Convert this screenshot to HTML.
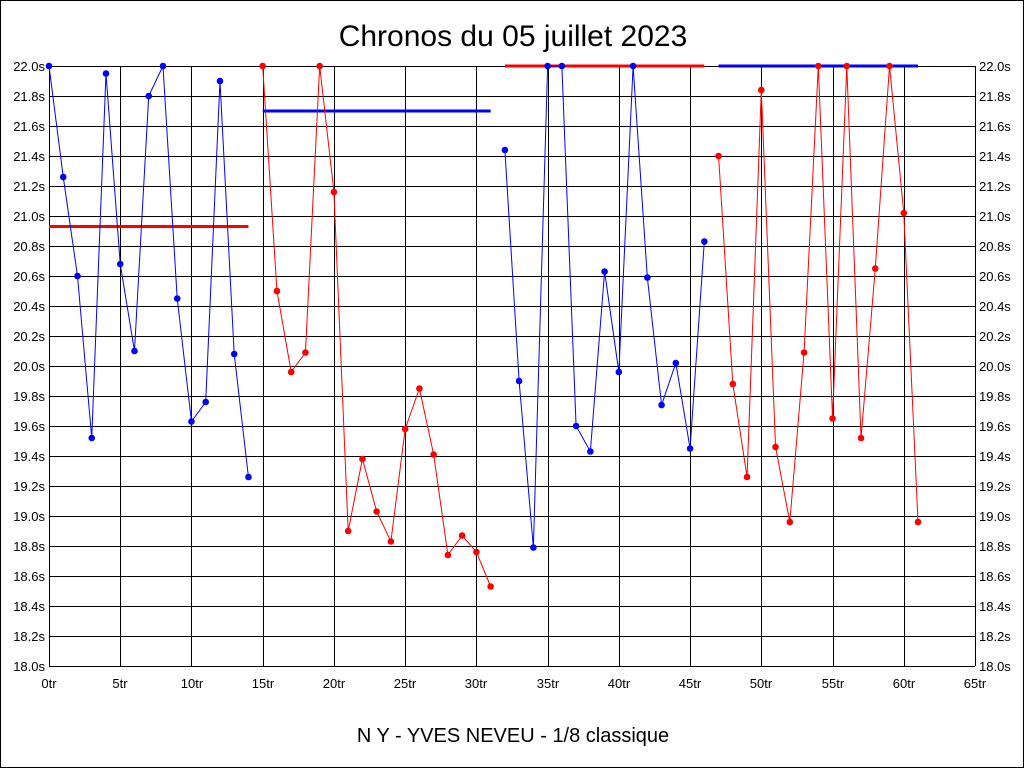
<!DOCTYPE html>
<html><head><meta charset="utf-8"><style>
html,body{margin:0;padding:0;background:#fff}
svg{display:block}
text{font-family:"Liberation Sans",Arial,sans-serif;fill:#000}
</style></head><body>
<svg id="s" width="1024" height="768" viewBox="0 0 1024 768" xmlns="http://www.w3.org/2000/svg">
<rect x="0.5" y="0.5" width="1023" height="767" fill="#fff" stroke="#000"/>
<text x="513" y="46" font-size="30" text-anchor="middle">Chronos du 05 juillet 2023</text>
<text x="513" y="742" font-size="20" text-anchor="middle">N Y - YVES NEVEU - 1/8 classique</text>
<g id="grid" stroke="#000" stroke-width="1" shape-rendering="crispEdges"></g>
<g font-size="13" text-anchor="end">
<text x="45" y="71">22.0s</text><text x="45" y="101">21.8s</text><text x="45" y="131">21.6s</text><text x="45" y="161">21.4s</text><text x="45" y="191">21.2s</text><text x="45" y="221">21.0s</text><text x="45" y="251">20.8s</text><text x="45" y="281">20.6s</text><text x="45" y="311">20.4s</text><text x="45" y="341">20.2s</text><text x="45" y="371">20.0s</text><text x="45" y="401">19.8s</text><text x="45" y="431">19.6s</text><text x="45" y="461">19.4s</text><text x="45" y="491">19.2s</text><text x="45" y="521">19.0s</text><text x="45" y="551">18.8s</text><text x="45" y="581">18.6s</text><text x="45" y="611">18.4s</text><text x="45" y="641">18.2s</text><text x="45" y="671">18.0s</text>
</g>
<g font-size="13" text-anchor="start">
<text x="979" y="71">22.0s</text><text x="979" y="101">21.8s</text><text x="979" y="131">21.6s</text><text x="979" y="161">21.4s</text><text x="979" y="191">21.2s</text><text x="979" y="221">21.0s</text><text x="979" y="251">20.8s</text><text x="979" y="281">20.6s</text><text x="979" y="311">20.4s</text><text x="979" y="341">20.2s</text><text x="979" y="371">20.0s</text><text x="979" y="401">19.8s</text><text x="979" y="431">19.6s</text><text x="979" y="461">19.4s</text><text x="979" y="491">19.2s</text><text x="979" y="521">19.0s</text><text x="979" y="551">18.8s</text><text x="979" y="581">18.6s</text><text x="979" y="611">18.4s</text><text x="979" y="641">18.2s</text><text x="979" y="671">18.0s</text>
</g>
<g font-size="13" text-anchor="middle">
<text x="49" y="688">0tr</text><text x="120" y="688">5tr</text><text x="192" y="688">10tr</text><text x="263" y="688">15tr</text><text x="334" y="688">20tr</text><text x="405" y="688">25tr</text><text x="476" y="688">30tr</text><text x="548" y="688">35tr</text><text x="619" y="688">40tr</text><text x="690" y="688">45tr</text><text x="761" y="688">50tr</text><text x="833" y="688">55tr</text><text x="904" y="688">60tr</text><text x="975" y="688">65tr</text>
</g>
<g id="data"></g>
</svg>
<script>
var X=function(i){return 49+i*926/65},Y=function(v){return 66+(22-v)*150};
var ns="http://www.w3.org/2000/svg",g=document.getElementById("grid"),d=document.getElementById("data");
function el(p,t,a){var e=document.createElementNS(ns,t);for(var k in a)e.setAttribute(k,a[k]);p.appendChild(e);return e}
for(var i=0;i<=13;i++){var x=Math.round(X(i*5))+0.5;el(g,"line",{x1:x,x2:x,y1:66,y2:666})}
for(var j=0;j<=20;j++){var y=66+j*30+0.5;el(g,"line",{x1:49,x2:975,y1:y,y2:y})}
var v=[22,21.26,20.6,19.52,21.95,20.68,20.1,21.8,22,20.45,19.63,19.76,21.9,20.08,19.26,
22,20.5,19.96,20.09,22,21.16,18.9,19.38,19.03,18.83,19.58,19.85,19.41,18.74,18.87,18.76,18.53,
21.44,19.9,18.79,22,22,19.6,19.43,20.63,19.96,22,20.59,19.74,20.02,19.45,20.83,
21.4,19.88,19.26,21.84,19.46,18.96,20.09,22,19.65,22,19.52,20.65,22,21.02,18.96];
var segs=[[0,14,"#0000ff",20.93],[15,31,"#ff0000",21.7],[32,46,"#0000ff",22],[47,61,"#ff0000",22]];
segs.forEach(function(s,k){
 var avgc=s[2]=="#0000ff"?"#ff0000":"#0000ff";
 el(d,"line",{x1:X(s[0]),x2:X(s[1]),y1:Y(s[3]),y2:Y(s[3]),stroke:avgc,"stroke-width":3});
 var pts=[];for(var i=s[0];i<=s[1];i++)pts.push(X(i)+","+Y(v[i]));
 el(d,"polyline",{points:pts.join(" "),fill:"none",stroke:s[2],"stroke-width":1});
 for(var i=s[0];i<=s[1];i++)el(d,"circle",{cx:X(i),cy:Y(v[i]),r:3.3,fill:s[2]});
});
</script>
</body></html>
